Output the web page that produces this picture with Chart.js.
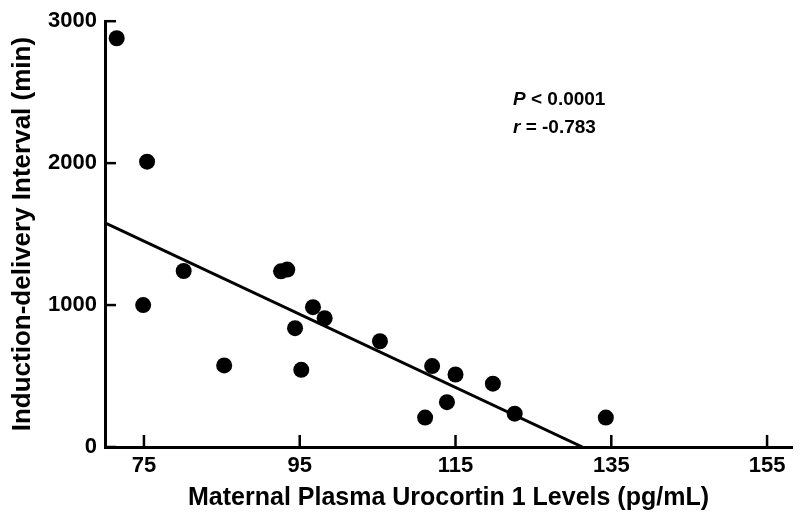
<!DOCTYPE html>
<html>
<head>
<meta charset="utf-8">
<script src="https://cdn.jsdelivr.net/npm/chart.js@4"></script>
<style>
  html, body { margin: 0; padding: 0; background: #fff; }
  #wrap { width: 800px; height: 518px; }
</style>
</head>
<body>
<div id="wrap"><canvas id="chart" width="800" height="518"></canvas></div>
<script>
// Data
const urocortin = [71.5, 75.4, 80.1, 74.9, 85.3, 92.6, 93.4, 96.7, 98.2, 94.4, 95.2, 105.3, 112.0, 115.0, 119.8, 113.9, 111.1, 122.6, 134.3];
const interval  = [2880, 2010, 1240, 1000, 575, 1238, 1250, 985, 907, 837, 544, 745, 570, 511, 446, 316, 207, 235, 207];
const fitX = [70, 131.3];
const fitY = [1580, 0];
const xTicks = [75, 95, 115, 135, 155];
const yTicks = [0, 1000, 2000, 3000];
const statLines = [['P', ' < 0.0001'], ['r', ' = -0.783']];

const FONT = '"Liberation Sans", Arial, Helvetica, sans-serif';

// inward tick marks + stats text
const extrasPlugin = {
    id: 'extras',
    afterDraw(chart) {
        const ctx = chart.ctx;
        const x = chart.scales.x, y = chart.scales.y;
        const area = chart.chartArea;
        ctx.save();
        ctx.strokeStyle = '#000';
        ctx.lineWidth = 2.5;
        xTicks.forEach(v => {
            const px = x.getPixelForValue(v);
            ctx.beginPath();
            ctx.moveTo(px, area.bottom);
            ctx.lineTo(px, area.bottom - 12);
            ctx.stroke();
        });
        yTicks.forEach(v => {
            const py = y.getPixelForValue(v);
            ctx.beginPath();
            ctx.moveTo(area.left, py);
            ctx.lineTo(area.left + 11, py);
            ctx.stroke();
        });

        // stats annotation
        ctx.fillStyle = '#000';
        ctx.textBaseline = 'middle';
        const tx = 513;
        statLines.forEach((parts, i) => {
            const ty = 100 + i * 28;
            ctx.font = 'italic bold 19px ' + FONT;
            ctx.fillText(parts[0], tx, ty);
            const w = ctx.measureText(parts[0]).width;
            ctx.font = 'bold 19px ' + FONT;
            ctx.fillText(parts[1], tx + w, ty);
        });
        ctx.restore();
    }
};

const points = urocortin.map((v, i) => ({ x: v, y: interval[i] }));
const fitLine = fitX.map((v, i) => ({ x: v, y: fitY[i] }));

new Chart(document.getElementById('chart').getContext('2d'), {
    type: 'scatter',
    data: {
        datasets: [{
            data: points,
            backgroundColor: '#000',
            borderColor: '#000',
            pointRadius: 8,
            pointHoverRadius: 8,
            borderWidth: 0
        }, {
            type: 'line',
            data: fitLine,
            borderColor: '#000',
            borderWidth: 3,
            pointRadius: 0,
            fill: false
        }]
    },
    options: {
        responsive: false,
        animation: false,
        layout: { padding: { left: 0, right: 8, top: 20, bottom: 0 } },
        plugins: {
            legend: { display: false },
            tooltip: { enabled: false }
        },
        scales: {
            x: {
                type: 'linear',
                min: 70,
                max: 158.2,
                afterBuildTicks: scale => { scale.ticks = xTicks.map(v => ({ value: v })); },
                afterFit: scale => { scale.height = 71; },
                grid: { display: false, drawTicks: false },
                border: { display: true, color: '#000', width: 3 },
                ticks: {
                    padding: 6,
                    color: '#000',
                    maxRotation: 0,
                    callback: v => String(v),
                    font: { family: FONT, size: 22, weight: 'bold' }
                },
                title: {
                    display: true,
                    text: 'Maternal Plasma Urocortin 1 Levels (pg/mL)',
                    color: '#000',
                    padding: { top: 5, bottom: 5 },
                    font: { family: FONT, size: 25, weight: 'bold' }
                }
            },
            y: {
                type: 'linear',
                min: 0,
                max: 3000,
                afterBuildTicks: scale => { scale.ticks = yTicks.map(v => ({ value: v })); },
                afterFit: scale => { scale.width = 105; },
                grid: { display: false, drawTicks: false },
                border: { display: true, color: '#000', width: 3 },
                ticks: {
                    padding: 8,
                    color: '#000',
                    callback: v => String(v),
                    font: { family: FONT, size: 22, weight: 'bold' }
                },
                title: {
                    display: true,
                    text: 'Induction-delivery Interval (min)',
                    color: '#000',
                    padding: { top: 7, bottom: 7 },
                    font: { family: FONT, size: 26, weight: 'bold' }
                }
            }
        }
    },
    plugins: [extrasPlugin]
});
</script>
</body>
</html>
